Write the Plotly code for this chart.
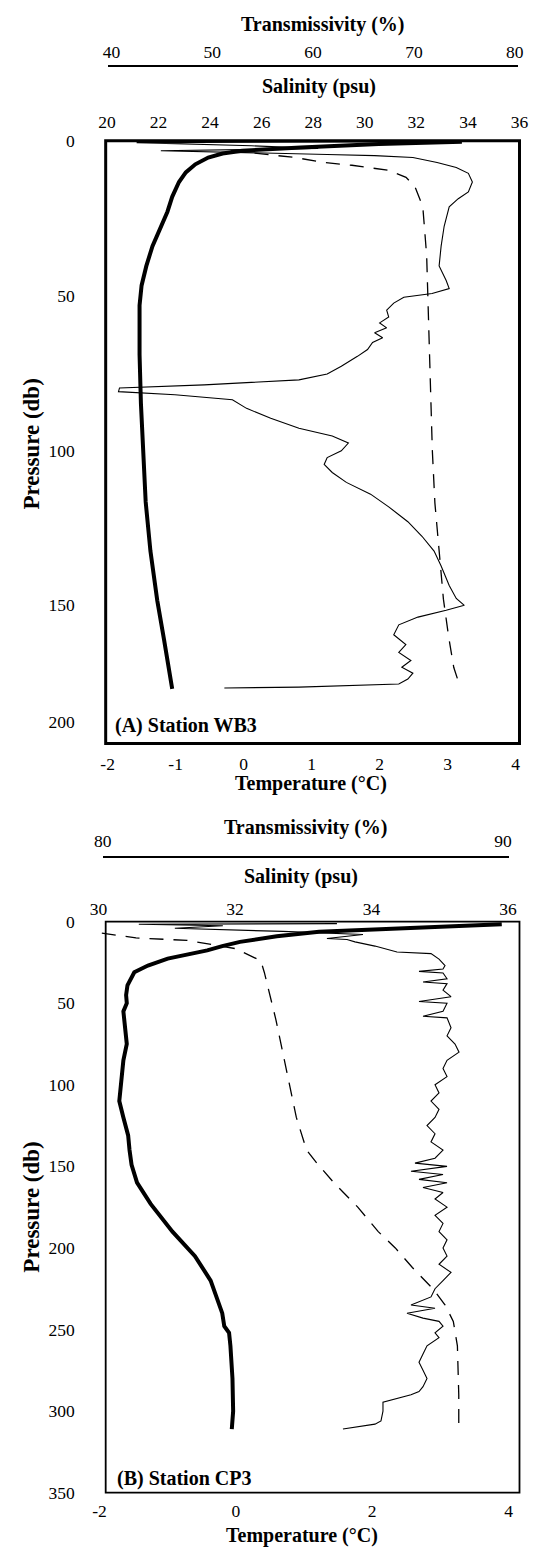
import plotly.graph_objects as go

W, H = 543, 1555

# ---------------- Panel A : Station WB3 ----------------
a_temp_p = [0.3, 1.0, 2.2, 3.2, 4.1, 5.4, 7.6, 10.2, 13.3, 18.1, 22.9, 27.6, 34, 40.4, 46.7, 53.1, 69, 84.8,
            100.7, 116.6, 132.5, 148.4, 161.1, 177]
a_temp_t = [3.21, 1.99, 0.84, -0.02, -0.31, -0.52, -0.71, -0.85, -0.95, -1.05, -1.12, -1.21, -1.34, -1.43,
            -1.5, -1.53, -1.53, -1.51, -1.48, -1.44, -1.37, -1.27, -1.17, -1.05]

a_sal_p = [3.2, 4.4, 5.4, 7.0, 7.9, 9.5, 11.8, 14.9, 21.3, 37, 53, 70, 85, 100, 117, 133, 148, 160, 170, 176.4]
a_sal_s = [24.8, 26.2, 27.3, 28.4, 29.5, 30.9, 31.6, 31.95, 32.25, 32.4, 32.45, 32.5, 32.55, 32.62, 32.72,
           32.88, 33.05, 33.25, 33.45, 33.7]

a_tr_p = [0.3, 0.6, 1.6, 2.5, 3.2, 3.8, 4.4, 4.8, 5.4, 7.0, 8.6, 10.5, 13.3, 16.5, 18.7, 21.3, 27.6, 34.0, 40.4,
          45.1, 47.7, 49.3, 50.5, 52.4, 54.7, 56.9, 58.8, 60.4, 62.0, 63.6, 65.1, 67.4, 69.6, 72.8, 75.3, 77.2,
          78.8, 79.8, 81.0, 82.0, 83.6, 86.4, 89.6, 92.8, 95.3, 97.6, 100.1, 102.3, 104.5, 107.1, 110.3, 114.1,
          118.2, 123.0, 127.7, 132.5, 137.3, 143.6, 147.8, 150.0, 151.6, 153.8, 156.3, 159.5, 162.7, 165.2,
          167.8, 170.0, 171.9, 173.8, 175.4, 176.4, 176.7]
a_tr_v = [73.2, 42.5, 53.9, 60.5, 44.9, 54.8, 61.4, 66.1, 69.9, 72.3, 74.2, 75.4, 75.8, 75.4, 74.4, 73.5, 73.0,
          72.7, 72.5, 73.2, 73.5, 71.8, 69.0, 68.0, 67.3, 67.5, 66.6, 67.3, 66.1, 66.9, 65.9, 65.4, 64.4, 62.8,
          61.4, 58.6, 49.2, 40.8, 40.7, 46.3, 52.0, 53.4, 55.8, 58.6, 61.9, 63.5, 62.8, 61.4, 61.1, 61.9, 63.3,
          65.7, 67.5, 69.4, 70.8, 72.0, 72.7, 73.5, 74.2, 75.0, 73.2, 70.4, 68.5, 68.0, 69.2, 68.5, 69.7, 68.8,
          69.9, 69.4, 68.5, 58.6, 51.2]

# ---------------- Panel B : Station CP3 ----------------
b_temp_p = [1.6, 3, 4.5, 6.2, 9, 12.4, 15, 17.6, 22.7, 26.9, 31, 36, 39, 45, 50, 55, 65, 75, 85, 100, 110,
            120, 131, 140, 149, 160, 173, 190, 205, 220, 240, 248, 252, 260, 280, 300, 311]
b_temp_t = [3.9, 3.05, 2.1, 1.22, 0.6, 0.06, -0.2, -0.42, -1.0, -1.29, -1.49, -1.56, -1.59, -1.61, -1.6, -1.65,
            -1.63, -1.6, -1.65, -1.69, -1.71, -1.65, -1.58, -1.56, -1.53, -1.45, -1.25, -0.93, -0.6, -0.37,
            -0.2, -0.17, -0.1, -0.08, -0.05, -0.04, -0.06]

b_sal_p = [7, 10, 11.5, 16.5, 19, 24, 31, 43, 60, 80, 100, 120, 140, 148, 160, 175, 190, 200, 212, 225, 235,
           245, 260, 290, 311]
b_sal_s = [30.05, 30.55, 31.3, 32.0, 32.13, 32.38, 32.43, 32.5, 32.6, 32.7, 32.8, 32.9, 33.05, 33.2, 33.45,
           33.8, 34.1, 34.35, 34.6, 34.9, 35.08, 35.2, 35.26, 35.28, 35.28]

b_tr_p = [1.2, 1.6, 2.5, 4.1, 6, 7.9, 10.3, 11, 12.4, 15, 18.6, 19.6, 23, 26.9, 29, 30.5, 31.5, 35, 37, 38, 42,
          46, 49, 50, 55, 58, 59, 65, 70, 75, 80, 85, 90, 95, 100, 105, 110, 115, 120, 125, 130, 135, 140, 145,
          148, 150, 153, 155, 158, 160, 163, 166, 170, 175, 180, 185, 190, 195, 200, 205, 210, 215, 220, 225,
          230, 235, 237, 240, 243, 245, 248, 252, 255, 260, 265, 270, 275, 280, 285, 288, 290, 292, 294.6, 300,
          306, 308, 311]
b_tr_v = [85.85, 80.9, 83.0, 81.8, 84.5, 86.5, 85.6, 86.1, 86.3, 86.8, 87.35, 88.2, 88.4, 88.55, 88.5, 87.9,
          88.5, 88.6, 88.0, 88.6, 88.5, 88.7, 87.9, 88.6, 88.5, 88.0, 88.6, 88.7, 88.6, 88.8, 88.9, 88.6, 88.5,
          88.6, 88.3, 88.4, 88.2, 88.4, 88.3, 88.1, 88.3, 88.2, 88.5, 88.3, 87.8, 88.6, 87.7, 88.5, 87.9, 88.6,
          88.0, 88.5, 88.3, 88.6, 88.3, 88.5, 88.4, 88.6, 88.5, 88.6, 88.4, 88.7, 88.5, 88.3, 88.2, 87.7, 88.3,
          87.6, 88.0, 88.4, 88.5, 88.3, 88.4, 88.1, 88.0, 87.9, 88.0, 88.1, 88.0, 87.9, 87.7, 87.4, 87.0, 87.0,
          86.95, 86.8, 86.0]

# tick labels
a_temp_ticks = [-2, -1, 0, 1, 2, 3, 4]
a_temp_text = ["-2", "-1", "0", "1", "2", "3", "4"]
a_sal_ticks = [20, 22, 24, 26, 28, 30, 32, 34, 36]
a_tr_ticks = [40, 50, 60, 70, 80]
a_p_ticks = [0, 50, 100, 150, 187.6]          # the reference prints its "200" label at this height
a_p_text = ["0", "50", "100", "150", "200"]
b_temp_ticks = [-2, 0, 2, 4]
b_temp_text = ["-2", "0", "2", "4"]
b_sal_ticks = [30, 32, 34, 36]
b_tr_ticks = [80, 90]
b_p_ticks = [0, 50, 100, 150, 200, 250, 300, 350]


def fx(px):
    return px / W


def fy(py):
    return 1 - py / H


FONT = "Liberation Serif"
TICKF = dict(family=FONT, size=17.5, color="black")

fig = go.Figure()
thick = dict(color="black", width=4)
thin = dict(color="black", width=1.1)
dashed = dict(color="black", width=1.3, dash="14px,10px")

fig.add_trace(go.Scatter(x=a_temp_t, y=a_temp_p, mode="lines", line=thick, xaxis="x", yaxis="y"))
fig.add_trace(go.Scatter(x=a_sal_s, y=a_sal_p, mode="lines", line=dashed, xaxis="x2", yaxis="y"))
fig.add_trace(go.Scatter(x=a_tr_v, y=a_tr_p, mode="lines", line=thin, xaxis="x3", yaxis="y"))
fig.add_trace(go.Scatter(x=b_temp_t, y=b_temp_p, mode="lines", line=thick, xaxis="x4", yaxis="y2"))
fig.add_trace(go.Scatter(x=b_sal_s, y=b_sal_p, mode="lines", line=dashed, xaxis="x5", yaxis="y2"))
fig.add_trace(go.Scatter(x=b_tr_v, y=b_tr_p, mode="lines", line=thin, xaxis="x6", yaxis="y2"))

boxA = (100, 528, 132.5, 743)
boxB = (100, 528, 923.5, 1502)

common = dict(showgrid=False, zeroline=False, ticks="", tickfont=TICKF, fixedrange=True, showline=False)

fig.update_layout(
    width=W, height=H, margin=dict(l=0, r=0, t=0, b=0),
    paper_bgcolor="white", plot_bgcolor="rgba(0,0,0,0)", showlegend=False,
    # Panel A
    xaxis=dict(domain=[fx(boxA[0]), fx(boxA[1])], range=[-2.028, 4.057], anchor="y",
               tickvals=a_temp_ticks, ticktext=a_temp_text, ticklabelstandoff=8, **common),
    xaxis2=dict(domain=[fx(boxA[0]), fx(boxA[1])], range=[19.95, 36.001], anchor="y", side="top",
                overlaying="x", tickvals=a_sal_ticks, ticklabelstandoff=8, **common),
    xaxis3=dict(domain=[fx(102.4), fx(526.2)], range=[39.66, 80.3], anchor="free", position=fy(57),
                side="top", tickvals=a_tr_ticks, ticklabelstandoff=0,
                **{**common, "showline": True}, linecolor="black", linewidth=1.6),
    yaxis=dict(domain=[fy(boxA[3]), fy(boxA[2])], range=[194.6, 0], anchor="free", position=fx(100),
               tickvals=a_p_ticks, ticktext=a_p_text, ticklabelstandoff=31, **common),
    # Panel B
    xaxis4=dict(domain=[fx(92), fx(517)], range=[-2.023, 4.004], anchor="y2",
                tickvals=b_temp_ticks, ticktext=b_temp_text, ticklabelstandoff=6, **common),
    xaxis5=dict(domain=[fx(92), fx(517)], range=[29.993, 36.014], anchor="y2", side="top",
                overlaying="x4", tickvals=b_sal_ticks, ticklabelstandoff=2, **common),
    xaxis6=dict(domain=[fx(97), fx(517)], range=[80.0, 90.145], anchor="free", position=fy(858),
                side="top", tickvals=b_tr_ticks, ticklabelstandoff=2,
                **{**common, "showline": True}, linecolor="black", linewidth=1.6),
    yaxis2=dict(domain=[fy(boxB[3]), fy(boxB[2])], range=[350, 0], anchor="free", position=fx(100),
                tickvals=b_p_ticks, ticklabelstandoff=31, **common),
)

fig.add_shape(type="rect", xref="paper", yref="paper", x0=fx(boxA[0]), x1=fx(boxA[1]),
              y0=fy(boxA[3]), y1=fy(boxA[2]), line=dict(color="black", width=3))
fig.add_shape(type="rect", xref="paper", yref="paper", x0=fx(boxB[0]), x1=fx(boxB[1]),
              y0=fy(boxB[3]), y1=fy(boxB[2]), line=dict(color="black", width=1.8))


def ann(text, x, y, angle=0, size=20, xanchor="center"):
    fig.add_annotation(text=text, x=fx(x), y=fy(y), xref="paper", yref="paper", showarrow=False,
                       font=dict(family=FONT, size=size, color="black"), textangle=angle,
                       xanchor=xanchor, yanchor="middle")


ann("<b>Transmissivity (%)</b>", 325, 15)
ann("<b>Salinity (psu)</b>", 321, 78)
ann("<b>Temperature (°C)</b>", 312, 784)
ann("<b>Pressure (db)</b>", 23, 440, angle=-90, size=23)
ann("<b>(A) Station WB3</b>", 108, 725, xanchor="left")

ann("<b>Transmissivity (%)</b>", 307, 828)
ann("<b>Salinity (psu)</b>", 302, 878)
ann("<b>Temperature (°C)</b>", 303, 1545)
ann("<b>Pressure (db)</b>", 23, 1213, angle=-90, size=23)
ann("<b>(B) Station CP3</b>", 110, 1488, xanchor="left")

fig.write_html("out.html", config={"displayModeBar": False},
               post_script="document.body.style.margin='0px';")
